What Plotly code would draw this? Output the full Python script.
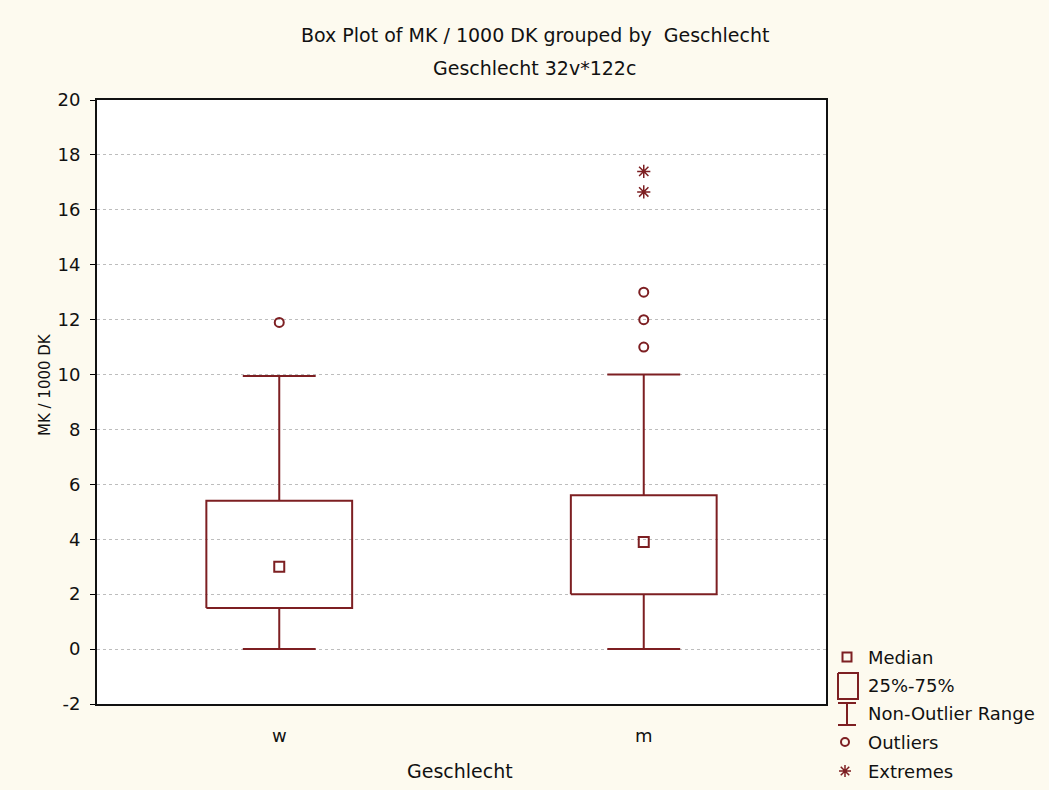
import plotly.graph_objects as go

# Box plot summary statistics per group
categories = ["w", "m"]
q1 = [1.5, 2.0]
median = [3.0, 3.9]
q3 = [5.4, 5.6]
whisker_low = [0.0, 0.0]
whisker_high = [9.95, 10.0]
outliers = {"w": [11.9], "m": [11.0, 12.0, 13.0]}
extremes = {"w": [], "m": [16.65, 17.4]}

y_ticks = list(range(-2, 21, 2))
y_tick_text = [str(v) for v in y_ticks]

W, H = 1049, 790
PL, PR, PT, PB = 97, 826, 100, 704  # plot box in page pixels
LX0, LY0 = 830, 640                 # legend key area (page pixels)

RED = "#7d1f22"
TXT = "#111111"
BG = "#fdfaef"
FONT = "DejaVu Sans"
BOX_HALF = 0.2
CAP_HALF = 0.1

fig = go.Figure()

pos = list(range(len(categories)))

# boxes (25%-75%)
bx, by = [], []
for i in pos:
    bx += [i - BOX_HALF, i + BOX_HALF, i + BOX_HALF, i - BOX_HALF, i - BOX_HALF, None]
    by += [q1[i], q1[i], q3[i], q3[i], q1[i], None]
fig.add_trace(go.Scatter(x=bx, y=by, mode="lines", line=dict(color=RED, width=2),
                         hoverinfo="skip", showlegend=False))

# whiskers with caps (non-outlier range)
wx, wy = [], []
for i in pos:
    wx += [i, i, None, i - CAP_HALF, i + CAP_HALF, None]
    wy += [q3[i], whisker_high[i], None, whisker_high[i], whisker_high[i], None]
    wx += [i, i, None, i - CAP_HALF, i + CAP_HALF, None]
    wy += [q1[i], whisker_low[i], None, whisker_low[i], whisker_low[i], None]
fig.add_trace(go.Scatter(x=wx, y=wy, mode="lines", line=dict(color=RED, width=2),
                         hoverinfo="skip", showlegend=False))

# medians
fig.add_trace(go.Scatter(x=pos, y=median, mode="markers",
                         marker=dict(symbol="square-open", size=10, color=RED, line=dict(width=2)),
                         showlegend=False))

# outliers
ox, oy = [], []
for i, c in enumerate(categories):
    ox += [i] * len(outliers[c])
    oy += outliers[c]
fig.add_trace(go.Scatter(x=ox, y=oy, mode="markers",
                         marker=dict(symbol="circle-open", size=9, color=RED, line=dict(width=2)),
                         showlegend=False))

# extremes
ex, ey = [], []
for i, c in enumerate(categories):
    ex += [i] * len(extremes[c])
    ey += extremes[c]
fig.add_trace(go.Scatter(x=ex, y=ey, mode="markers",
                         marker=dict(symbol="asterisk-open", size=11, color=RED, line=dict(width=1.5)),
                         showlegend=False))

# legend key symbols, on a small pixel-scaled axis pair beside the plot
leg_x = 847
fig.add_trace(go.Scatter(x=[leg_x], y=[657], xaxis="x2", yaxis="y2", mode="markers",
                         marker=dict(symbol="square-open", size=9, color=RED, line=dict(width=2)),
                         hoverinfo="skip", showlegend=False))
fig.add_trace(go.Scatter(x=[838, 858, 858, 838, 838], y=[673, 673, 699, 699, 673],
                         xaxis="x2", yaxis="y2", mode="lines", line=dict(color=RED, width=2),
                         hoverinfo="skip", showlegend=False))
fig.add_trace(go.Scatter(x=[838, 856, None, 847, 847, None, 838, 856],
                         y=[703, 703, None, 703, 725, None, 725, 725],
                         xaxis="x2", yaxis="y2", mode="lines", line=dict(color=RED, width=2),
                         hoverinfo="skip", showlegend=False))
fig.add_trace(go.Scatter(x=[845], y=[742], xaxis="x2", yaxis="y2", mode="markers",
                         marker=dict(symbol="circle-open", size=8, color=RED, line=dict(width=2)),
                         hoverinfo="skip", showlegend=False))
fig.add_trace(go.Scatter(x=[845], y=[771], xaxis="x2", yaxis="y2", mode="markers",
                         marker=dict(symbol="asterisk-open", size=10, color=RED, line=dict(width=1.5)),
                         hoverinfo="skip", showlegend=False))

legend_labels = ["Median", "25%-75%", "Non-Outlier Range", "Outliers", "Extremes"]
legend_y = [657, 685, 713, 742, 771]

annotations = []
for lab, ly in zip(legend_labels, legend_y):
    annotations.append(dict(x=866 / W, y=1 - ly / H, xref="paper", yref="paper",
                            text=lab, showarrow=False, xanchor="left", yanchor="middle",
                            font=dict(family=FONT, size=18, color=TXT)))

annotations += [
    dict(x=535 / W, y=1 - 35 / H, xref="paper", yref="paper", showarrow=False,
         text="Box Plot of MK / 1000 DK grouped by  Geschlecht", xanchor="center", yanchor="middle",
         font=dict(family=FONT, size=19, color=TXT)),
    dict(x=534 / W, y=1 - 68 / H, xref="paper", yref="paper", showarrow=False,
         text="Geschlecht 32v*122c", xanchor="center", yanchor="middle",
         font=dict(family=FONT, size=19, color=TXT)),
    dict(x=460 / W, y=1 - 771 / H, xref="paper", yref="paper", showarrow=False,
         text="Geschlecht", xanchor="center", yanchor="middle",
         font=dict(family=FONT, size=19, color=TXT)),
    dict(x=45 / W, y=1 - 385 / H, xref="paper", yref="paper", showarrow=False,
         text="MK / 1000 DK", textangle=-90, xanchor="center", yanchor="middle",
         font=dict(family=FONT, size=15, color=TXT)),
]

fig.update_layout(
    width=W, height=H,
    margin=dict(l=0, r=0, t=0, b=0, autoexpand=False),
    paper_bgcolor=BG,
    plot_bgcolor=BG,
    showlegend=False,
    annotations=annotations,
    # white plotting area of the main chart
    shapes=[dict(type="rect", xref="x domain", yref="y domain", x0=0, x1=1, y0=0, y1=1,
                 fillcolor="#ffffff", line=dict(width=0), layer="below")],
    xaxis=dict(
        domain=[PL / W, PR / W],
        range=[-0.5, 1.5],
        tickvals=pos, ticktext=categories,
        ticks="",
        tickfont=dict(family=FONT, size=18, color=TXT),
        ticklabelstandoff=14,
        showgrid=False, zeroline=False,
        showline=True, mirror=True, linecolor="#111", linewidth=2,
    ),
    yaxis=dict(
        domain=[1 - PB / H, 1 - PT / H],
        range=[-2, 20],
        tickvals=y_ticks, ticktext=y_tick_text,
        ticks="outside", ticklen=5, tickcolor="#000",
        tickfont=dict(family=FONT, size=18, color=TXT),
        ticklabelstandoff=6,
        showgrid=True, gridcolor="#bdbdbd", griddash="dot", gridwidth=1,
        zeroline=False,
        showline=True, mirror=True, linecolor="#111", linewidth=2,
    ),
    xaxis2=dict(domain=[LX0 / W, 1], range=[LX0, W], visible=False, anchor="y2", fixedrange=True),
    yaxis2=dict(domain=[0, 1 - LY0 / H], range=[H, LY0], visible=False, anchor="x2", fixedrange=True),
)

fig.write_html("out.html")
